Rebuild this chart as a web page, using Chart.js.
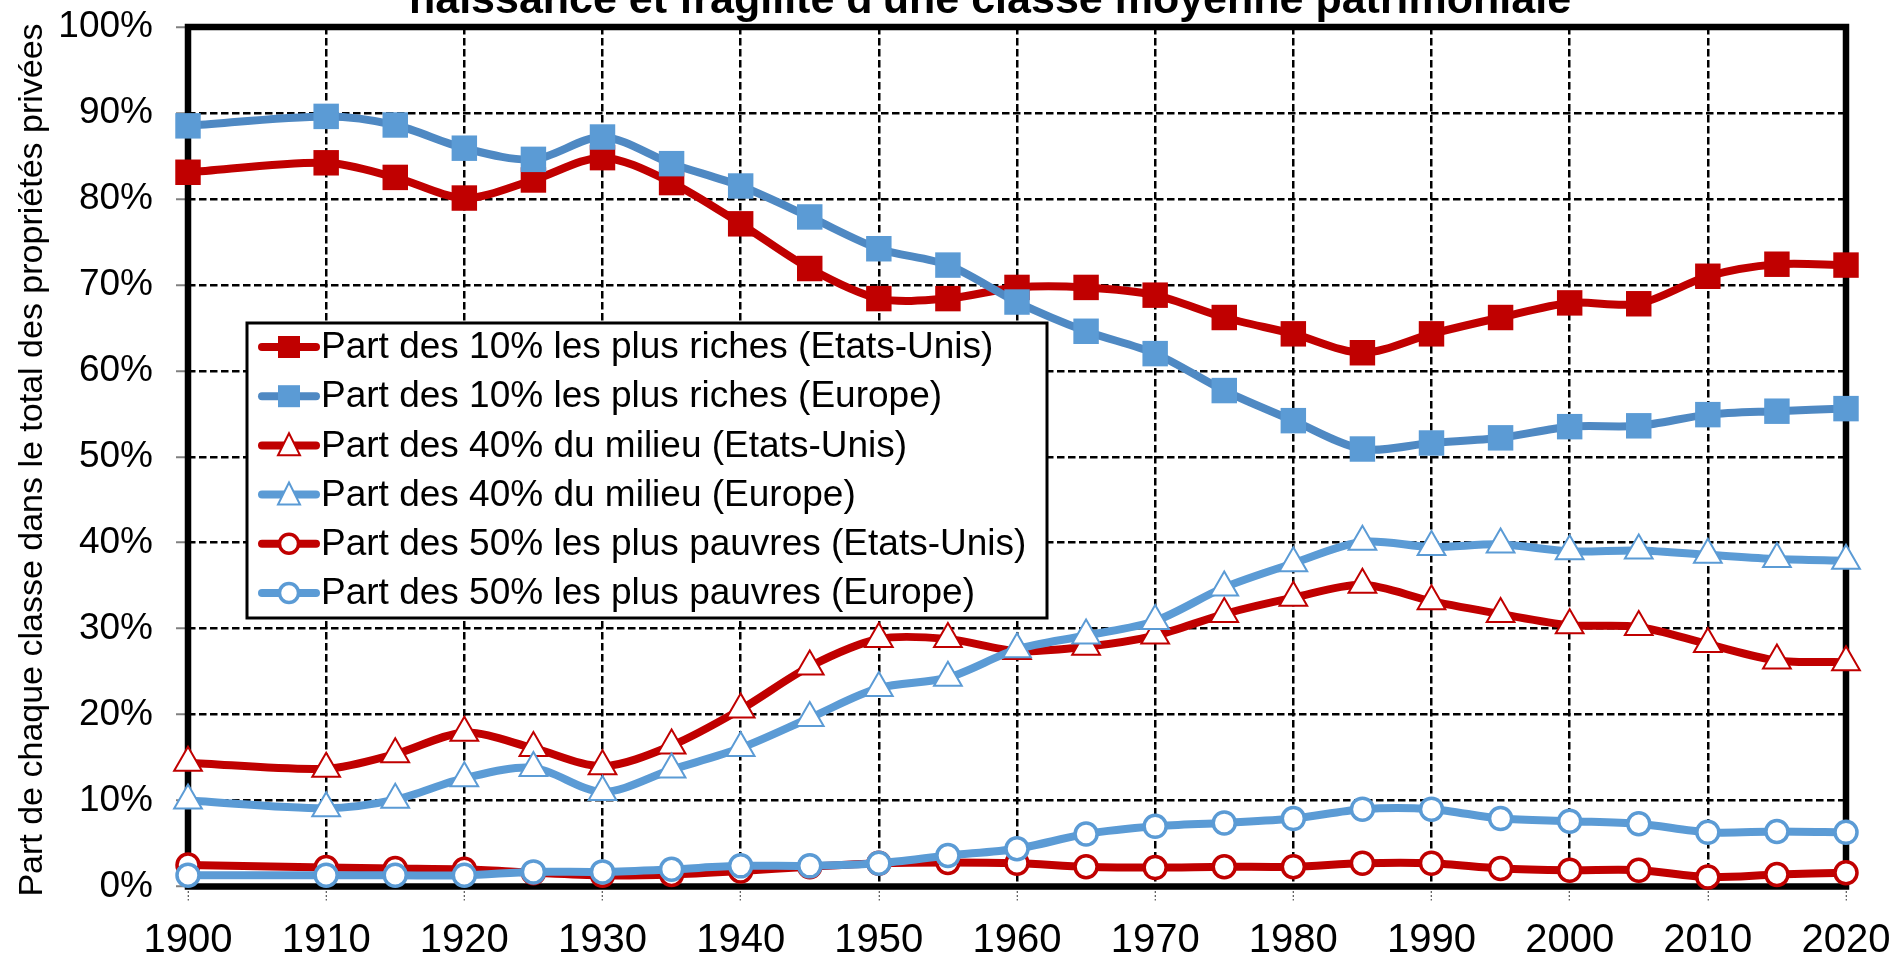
<!DOCTYPE html>
<html>
<head>
<meta charset="utf-8">
<script src="https://cdn.jsdelivr.net/npm/chart.js@4.4.1/dist/chart.umd.min.js"></script>
<style>
  html, body { margin: 0; padding: 0; background: #fff; }
  #wrap { width: 1898px; height: 953px; position: relative; }
</style>
</head>
<body>
<div id="wrap"><canvas id="myChart"></canvas></div>
<script>
var years = [1900, 1910, 1915, 1920, 1925, 1930, 1935, 1940, 1945, 1950, 1955, 1960,
             1965, 1970, 1975, 1980, 1985, 1990, 1995, 2000, 2005, 2010, 2015, 2020];

var top10US = [83.1, 84.2, 82.5, 80.1, 82.2, 84.8, 81.9, 77.1, 71.9, 68.4, 68.4, 69.7,
               69.7, 68.8, 66.2, 64.3, 62.1, 64.3, 66.2, 67.9, 67.8, 71.0, 72.4, 72.3];
var top10EU = [88.5, 89.6, 88.6, 85.9, 84.6, 87.2, 84.1, 81.5, 77.9, 74.2, 72.3, 68.0,
               64.6, 62.0, 57.7, 54.2, 50.9, 51.6, 52.2, 53.5, 53.6, 54.9, 55.3, 55.6];
var mid40US = [14.4, 13.7, 15.4, 17.9, 16.1, 14.0, 16.4, 20.6, 25.6, 28.8, 28.8, 27.4,
               27.9, 29.2, 31.7, 33.6, 35.1, 33.2, 31.7, 30.4, 30.2, 28.2, 26.3, 26.1];
var mid40EU = [10.0, 9.1, 10.1, 12.6, 13.8, 11.0, 13.6, 16.1, 19.6, 23.1, 24.3, 27.6,
               29.2, 30.9, 34.8, 37.6, 40.1, 39.5, 39.8, 39.0, 39.1, 38.6, 38.1, 37.9];
var bot50US = [2.5, 2.2, 2.1, 2.0, 1.6, 1.3, 1.4, 1.8, 2.3, 2.7, 2.8, 2.7,
               2.3, 2.2, 2.3, 2.3, 2.7, 2.7, 2.1, 1.9, 1.9, 1.1, 1.4, 1.6];
var bot50EU = [1.3, 1.3, 1.3, 1.3, 1.7, 1.7, 2.0, 2.4, 2.4, 2.7, 3.6, 4.4,
               6.1, 7.0, 7.4, 7.9, 9.0, 9.0, 7.9, 7.6, 7.3, 6.3, 6.4, 6.3];

var seriesLabels = [
    'Part des 10% les plus riches (Etats-Unis)',
    'Part des 10% les plus riches (Europe)',
    'Part des 40% du milieu (Etats-Unis)',
    'Part des 40% du milieu (Europe)',
    'Part des 50% les plus pauvres (Etats-Unis)',
    'Part des 50% les plus pauvres (Europe)'
];
var yTicks = [0, 10, 20, 30, 40, 50, 60, 70, 80, 90, 100];

var chartTitle = "naissance et fragilité d'une classe moyenne patrimoniale";
var yTitle = 'Part de chaque classe dans le total des propriétés privées';

var RED = '#C00000';
var BLUE = '#5B9BD5';
var BLUE_LINE = '#4F89C3';
var FONT = "'Liberation Sans', Arial, sans-serif";

function points(values) {
    return values.map(function (v, i) { return { x: years[i], y: v }; });
}

function series(index, values, lineColor, color, style) {
    var ds = {
        label: seriesLabels[index],
        data: points(values),
        borderColor: lineColor,
        borderWidth: 8,
        borderCapStyle: 'round',
        borderJoinStyle: 'round',
        tension: 0.3,
        pointStyle: style,
        clip: false,
        order: -index
    };
    if (style === 'rect') {
        ds.pointRadius = 18;
        ds.pointBackgroundColor = color;
        ds.pointBorderWidth = 0;
    } else if (style === 'triangle') {
        ds.pointRadius = 16;
        ds.pointBackgroundColor = '#fff';
        ds.pointBorderColor = color;
        ds.pointBorderWidth = 2;
    } else {
        ds.pointRadius = 11;
        ds.pointBackgroundColor = '#fff';
        ds.pointBorderColor = color;
        ds.pointBorderWidth = 3.5;
    }
    ds.legendStyle = style;
    ds.legendColor = color;
    return ds;
}

function drawMarker(c, style, x, y, s, color) {
    c.save();
    if (style === 'rect') {
        c.fillStyle = color;
        c.fillRect(x - s / 2, y - s / 2, s, s);
    } else if (style === 'triangle') {
        c.beginPath();
        c.moveTo(x, y - s * 0.55);
        c.lineTo(x + s / 2, y + s * 0.45);
        c.lineTo(x - s / 2, y + s * 0.45);
        c.closePath();
        c.fillStyle = '#fff';
        c.fill();
        c.strokeStyle = color;
        c.lineWidth = 2;
        c.stroke();
    } else {
        c.beginPath();
        c.arc(x, y, s / 2 - 1.5, 0, Math.PI * 2);
        c.fillStyle = '#fff';
        c.fill();
        c.strokeStyle = color;
        c.lineWidth = 3.5;
        c.stroke();
    }
    c.restore();
}

// plot frame under the series, titles and legend on top
var framePlugin = {
    id: 'framePlugin',
    beforeDatasetsDraw: function (chart) {
        var a = chart.chartArea, c = chart.ctx;
        c.save();
        c.strokeStyle = '#000';
        c.lineWidth = 6.5;
        c.strokeRect(a.left, a.top, a.right - a.left, a.bottom - a.top);
        c.restore();
    },
    afterDraw: function (chart) {
        var c = chart.ctx;
        c.save();
        c.fillStyle = '#000';
        c.font = 'bold 43px ' + FONT;
        c.textAlign = 'center';
        c.textBaseline = 'alphabetic';
        c.fillText(chartTitle, 990, 13);

        c.translate(41.5, 460);
        c.rotate(-Math.PI / 2);
        c.font = '34px ' + FONT;
        c.fillText(yTitle, 0, 0);
        c.restore();

        // legend box
        var bx = 247, by = 323, bw = 800, bh = 295;
        c.save();
        c.fillStyle = '#fff';
        c.fillRect(bx, by, bw, bh);
        c.strokeStyle = '#000';
        c.lineWidth = 3;
        c.strokeRect(bx, by, bw, bh);
        c.font = '37px ' + FONT;
        c.textAlign = 'left';
        c.textBaseline = 'middle';
        chart.data.datasets.forEach(function (ds, i) {
            var y = 347 + i * 49.2;
            c.strokeStyle = ds.borderColor;
            c.lineWidth = 8;
            c.lineCap = 'round';
            c.beginPath();
            c.moveTo(262, y);
            c.lineTo(316, y);
            c.stroke();
            drawMarker(c, ds.legendStyle, 289, y, 22, ds.legendColor);
            c.fillStyle = '#000';
            c.fillText(ds.label, 321, y + 1);
        });
        c.restore();
    }
};

var ctx = document.getElementById('myChart').getContext('2d');

var myChart = new Chart(ctx, {
    type: 'line',
    data: {
        datasets: [
            series(0, top10US, RED, RED, 'rect'),
            series(1, top10EU, BLUE_LINE, BLUE, 'rect'),
            series(2, mid40US, RED, RED, 'triangle'),
            series(3, mid40EU, BLUE, BLUE, 'triangle'),
            series(4, bot50US, RED, RED, 'circle'),
            series(5, bot50EU, BLUE, BLUE, 'circle')
        ]
    },
    options: {
        responsive: true,
        maintainAspectRatio: false,
        animation: false,
        layout: { padding: { top: 27, right: 52, bottom: 0, left: 0 } },
        scales: {
            x: {
                type: 'linear',
                min: 1900,
                max: 2020,
                afterFit: function (s) {
                    s.height = 66.5;
                    s.paddingLeft = 0;
                    s.paddingRight = 0;
                },
                ticks: {
                    stepSize: 10,
                    autoSkip: false,
                    maxRotation: 0,
                    padding: 16,
                    color: '#000',
                    font: { family: FONT, size: 40 },
                    callback: function (v) { return String(v); }
                },
                grid: {
                    color: '#000',
                    lineWidth: 2.5,
                    tickLength: 14,
                    tickWidth: 1,
                    tickColor: '#333',
                    tickBorderDash: [2, 2]
                },
                border: { display: false, dash: [7.5, 3.5] }
            },
            y: {
                min: 0,
                max: 100,
                afterFit: function (s) {
                    s.width = 188;
                    s.paddingTop = 0;
                    s.paddingBottom = 0;
                },
                afterBuildTicks: function (s) {
                    s.ticks = yTicks.map(function (v) { return { value: v }; });
                },
                ticks: {
                    padding: 23,
                    color: '#000',
                    font: { family: FONT, size: 37 },
                    callback: function (v) { return v + '%'; }
                },
                grid: {
                    color: '#000',
                    lineWidth: 2.5,
                    tickLength: 12,
                    tickWidth: 2,
                    tickColor: '#808080',
                    tickBorderDash: []
                },
                border: { display: false, dash: [7.5, 3.5] }
            }
        },
        plugins: {
            legend: { display: false },
            tooltip: { enabled: false }
        }
    },
    plugins: [framePlugin]
});
</script>
</body>
</html>
